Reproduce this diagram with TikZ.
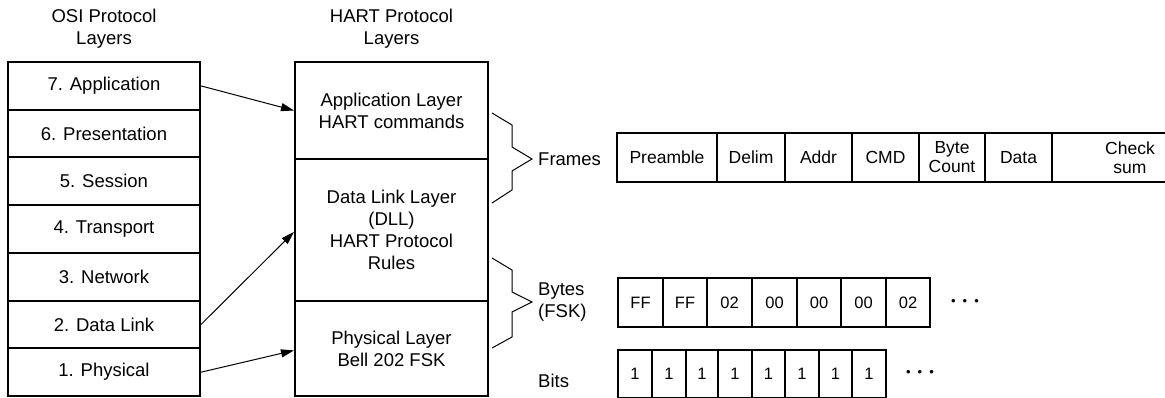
\documentclass[tikz,border=0pt]{standalone}
\usepackage{fontspec}
\setmainfont{Liberation Sans}
\usetikzlibrary{arrows.meta,calc}
\begin{document}
\begin{tikzpicture}[x=1pt,y=-1pt,
  every node/.style={font=\fontsize{18.5}{22}\selectfont},
  layer/.style={draw,line width=2pt,inner sep=0pt,align=center},
  osi/.style={layer,minimum width=192pt,minimum height=47.7pt},
  hart/.style={layer,minimum width=193pt},
  cell/.style={draw,line width=1.8pt,inner sep=0pt,align=center,minimum height=49pt,
    font=\fontsize{17.5}{19}\selectfont},
  bcell/.style={draw,line width=1.8pt,inner sep=0pt,align=center,
    font=\fontsize{16.5}{17}\selectfont},
  link/.style={line width=1pt,-{Triangle[length=13pt,width=8pt]}},
  brace/.style={line width=1pt},
  dots/.style={font=\fontsize{13}{13}\selectfont,inner sep=0pt}]
\useasboundingbox (0,0) rectangle (1165,398);

% headers
\node[align=center] (osih) at (104,29) {OSI Protocol\\Layers};
\node[align=center] (harth) at (391.5,29) {HART Protocol\\Layers};

% OSI stack
\node[osi] (o7) at (104,85.9) {7. Application};
\node[osi] (o6) at (104,133.6) {6. Presentation};
\node[osi] (o5) at (104,181.3) {5. Session};
\node[osi] (o4) at (104,229.0) {4. Transport};
\node[osi] (o3) at (104,276.8) {3. Network};
\node[osi] (o2) at (104,324.5) {2. Data Link};
\node[osi] (o1) at (104,372.2) {1. Physical};

% HART stack
\node[hart,minimum height=97pt] (h1) at (391.5,110.5) {Application Layer\\HART commands};
\node[hart,minimum height=141.7pt] (h2) at (391.5,229.9) {Data Link Layer\\(DLL)\\HART Protocol\\Rules};
\node[hart,minimum height=95.3pt] (h3) at (391.5,348.4) {Physical Layer\\Bell 202 FSK};

% mapping arrows
\draw[link] (o7.east) -- (h1.west);
\draw[link] (o2.east) -- ($(h2.west)+(0,2)$);
\draw[link] (o1.east) -- ($(h3.west)+(0,2)$);

% braces
\draw[brace] (492,113) -- (512,125) -- (512,147) -- (532,159) -- (512,171) -- (512,190) -- (492,203);
\draw[brace] (492,258) -- (512,270) -- (512,292) -- (532,302) -- (512,312) -- (512,337) -- (492,348);

% labels
\node[anchor=west,inner sep=0pt] (lframes) at (538,159) {Frames};
\node[anchor=west,inner sep=0pt,align=left] (lbytes) at (538,302) {Bytes\\(FSK)};
\node[anchor=west,inner sep=0pt] (lbits) at (538,381) {Bits};

% frame cells
\node[cell,minimum width=100pt] (f1) at (667,157.5) {Preamble};
\node[cell,minimum width=68pt] (f2) at (751,157.5) {Delim};
\node[cell,minimum width=67pt] (f3) at (818.5,157.5) {Addr};
\node[cell,minimum width=67pt] (f4) at (885.5,157.5) {CMD};
\node[cell,minimum width=66pt] (f5) at (952,157.5) {Byte\\Count};
\node[cell,minimum width=67pt] (f6) at (1018.5,157.5) {Data};
\node[cell,minimum width=156pt] (f7) at (1130,157.5) {Check\\sum};

% byte cells
\foreach \i/\a/\b/\t in {1/618/663/FF,2/663/707/FF,3/707/752/02,4/752/797/00,5/797/841/00,6/841/886/00,7/886/930/02}{
  \node[bcell,minimum width={\b-\a},minimum height=49pt] (b\i) at ({(\a+\b)/2},302.5) {\t};
}
\node[dots] (bdots) at (965,302) {•\hspace{7pt}•\hspace{7pt}•};

% bit cells
\foreach \i/\a/\b in {1/618/652,2/652/686,3/686/718,4/718/752,5/752/785,6/785/819,7/819/852,8/852/886}{
  \node[bcell,minimum width={\b-\a},minimum height=48pt] (t\i) at ({(\a+\b)/2},374) {1};
}
\node[dots] (tdots) at (920,373) {•\hspace{7pt}•\hspace{7pt}•};
\end{tikzpicture}
\end{document}
